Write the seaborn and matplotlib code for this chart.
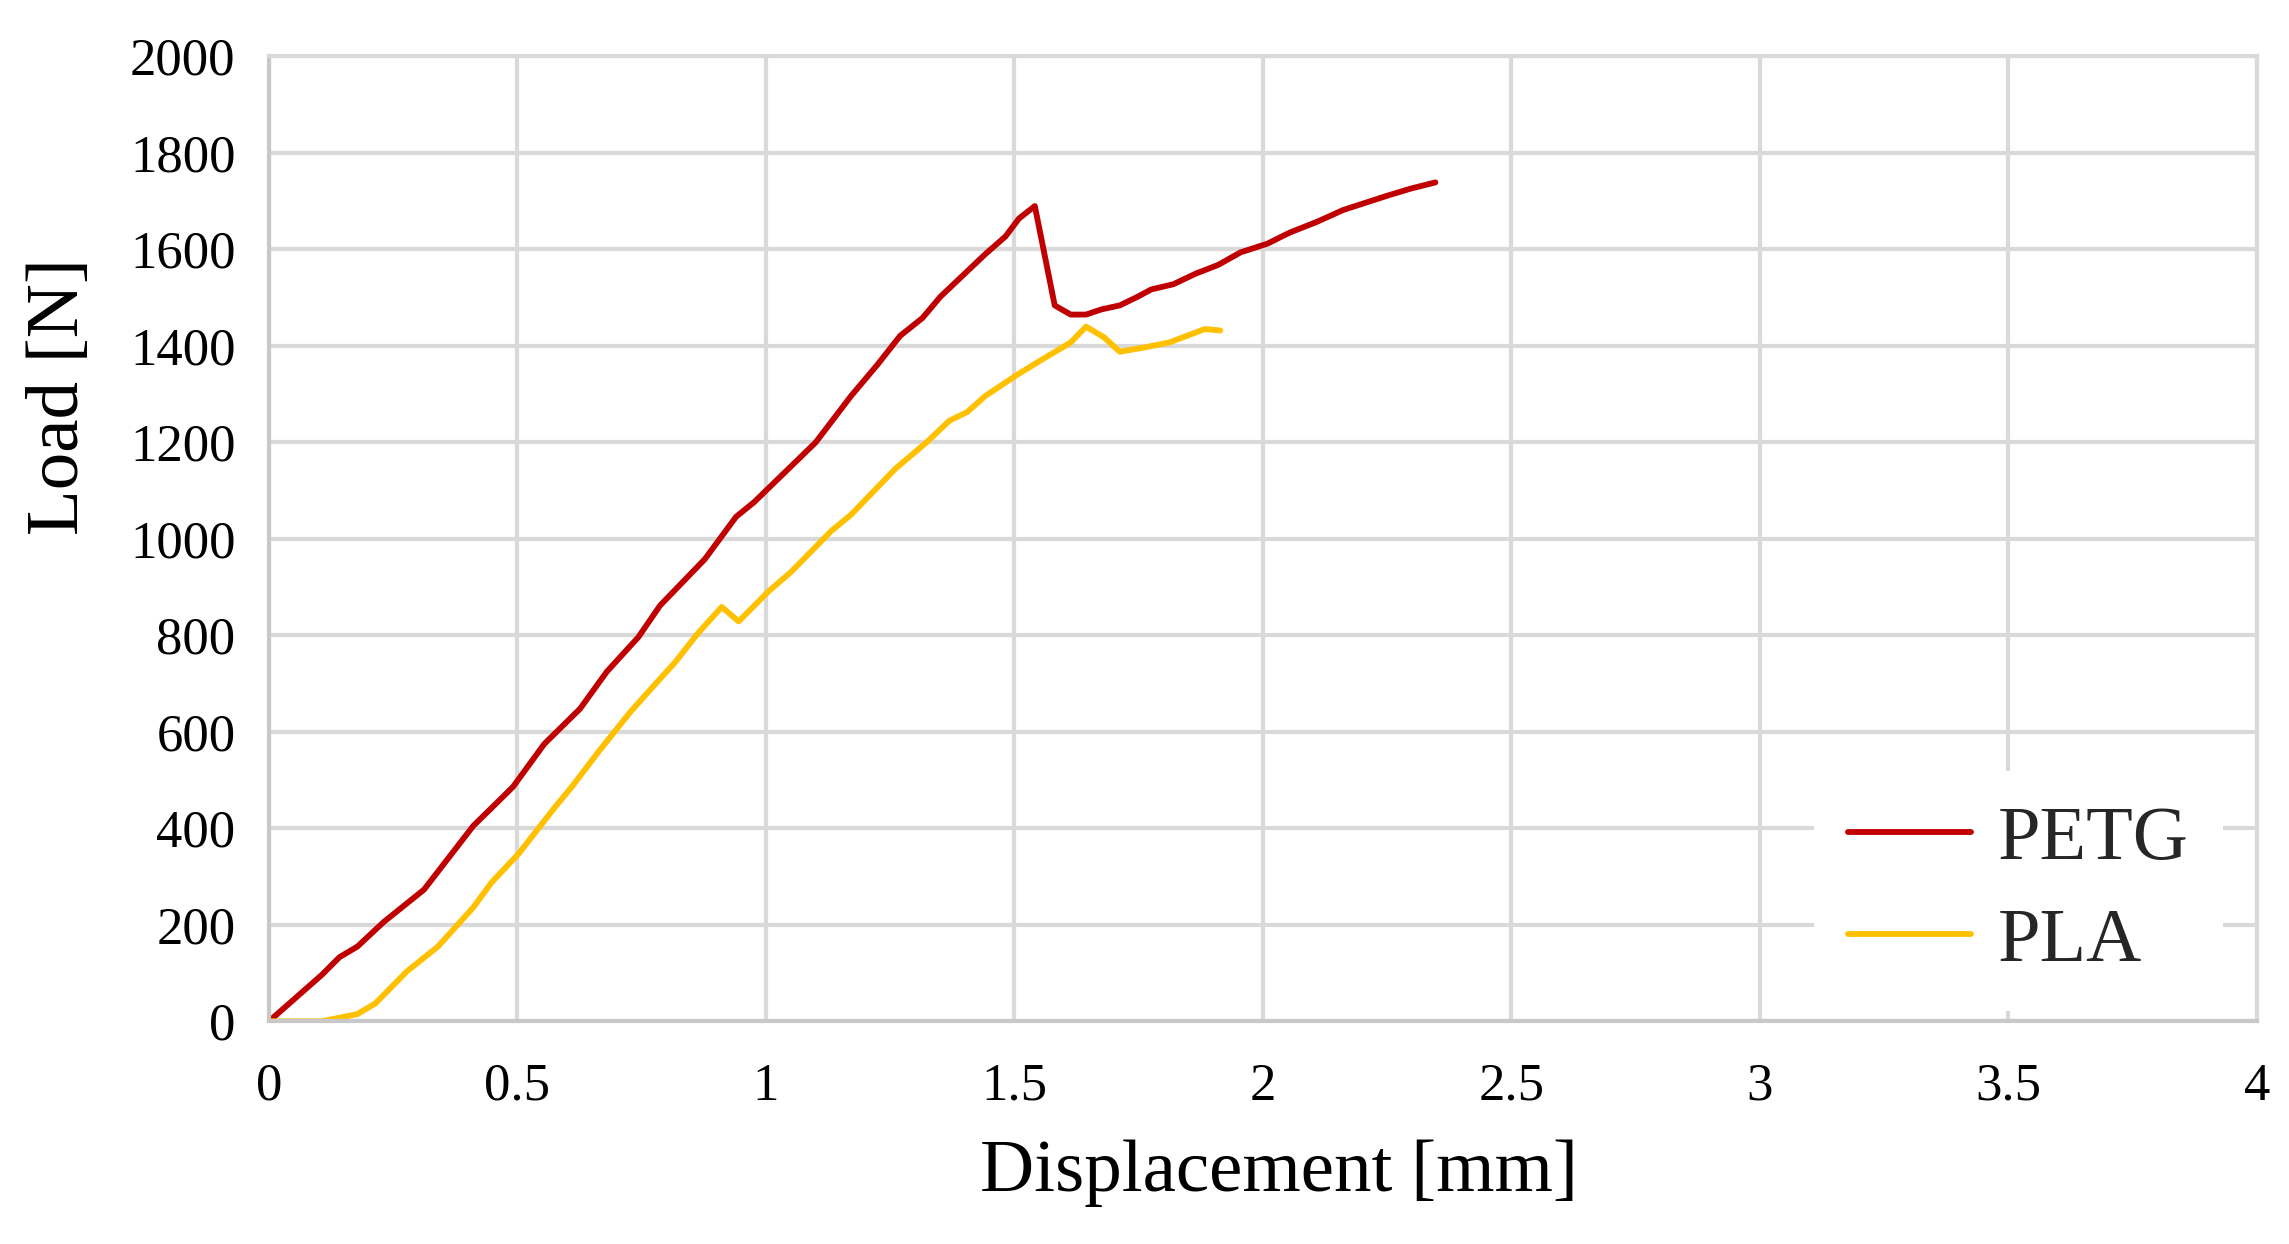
import numpy as np
import pandas as pd
import matplotlib
matplotlib.use("Agg")
import matplotlib.pyplot as plt
import seaborn as sns

# значення (переміщення, мм / навантаження, Н)
petg_disp = [0, 0.106, 0.142, 0.178, 0.231, 0.312, 0.411, 0.491, 0.554, 0.626,
             0.680, 0.743, 0.787, 0.877, 0.940, 0.976, 1.05, 1.10, 1.171, 1.225,
             1.270, 1.315, 1.351, 1.396, 1.441, 1.482, 1.509, 1.541, 1.581, 1.613,
             1.644, 1.676, 1.712, 1.748, 1.775, 1.820, 1.865, 1.910, 1.955, 2.009,
             2.054, 2.108, 2.162, 2.207, 2.252, 2.297, 2.347]
petg_load = [0, 96, 133, 155, 206, 273, 405, 486, 575, 648,
             725, 796, 862, 958, 1046, 1076, 1150, 1200, 1296, 1362,
             1421, 1458, 1502, 1546, 1590, 1627, 1664, 1690, 1484, 1465,
             1465, 1476, 1484, 1502, 1517, 1528, 1550, 1568, 1594, 1612,
             1635, 1657, 1682, 1697, 1712, 1726, 1739]

pla_disp = [0, 0.106, 0.178, 0.214, 0.277, 0.340, 0.411, 0.448, 0.502, 0.574,
            0.610, 0.664, 0.727, 0.772, 0.817, 0.862, 0.911, 0.945, 1.006, 1.051,
            1.132, 1.171, 1.216, 1.261, 1.324, 1.369, 1.405, 1.441, 1.505, 1.559,
            1.613, 1.644, 1.680, 1.712, 1.757, 1.811, 1.847, 1.883, 1.914]
pla_load = [0, 0, 15, 37, 103, 155, 236, 288, 347, 442,
            487, 560, 641, 693, 744, 803, 859, 829, 892, 932,
            1017, 1050, 1098, 1146, 1201, 1245, 1263, 1296, 1340, 1374,
            1407, 1440, 1418, 1388, 1396, 1407, 1421, 1435, 1432]

materials = ["PETG", "PLA"]
colors = {"PETG": "#c00000", "PLA": "#ffc000"}
x_ticks = [0, 0.5, 1, 1.5, 2, 2.5, 3, 3.5, 4]
x_tick_labels = ["0", "0.5", "1", "1.5", "2", "2.5", "3", "3.5", "4"]
y_ticks = list(range(0, 2001, 200))

sns.set_theme(style="whitegrid")
plt.rcParams["font.family"] = ["Liberation Serif", "DejaVu Serif"]

df = pd.concat([
    pd.DataFrame({"disp": petg_disp, "load": petg_load, "material": "PETG"}),
    pd.DataFrame({"disp": pla_disp, "load": pla_load, "material": "PLA"}),
], ignore_index=True)

fig = plt.figure(figsize=(22.89, 12.44), dpi=100)
ax = fig.add_axes([0.1175, 0.179, 0.8685, 0.7756])

sns.lineplot(data=df, x="disp", y="load", hue="material", hue_order=materials,
             palette=colors, sort=False, estimator=None, linewidth=4.2, ax=ax)

grid_c = "#d9d9d9"
ax.set_xlim(0, 4)
ax.set_ylim(0, 2000)
ax.set_xticks(x_ticks)
ax.set_xticklabels(x_tick_labels)
ax.set_yticks(y_ticks)
ax.grid(True, color=grid_c, linewidth=3.0)
for side in ["top", "right", "left", "bottom"]:
    ax.spines[side].set_color(grid_c)
    ax.spines[side].set_linewidth(3.0)
ax.spines["left"].set_color("#c8c8c8")
ax.spines["bottom"].set_color("#c8c8c8")
ax.tick_params(axis="both", length=0, labelsize=38, colors="black")
ax.tick_params(axis="x", pad=30)
ax.tick_params(axis="y", pad=24)

ax.set_xlabel("Displacement [mm]", fontsize=54, color="black")
ax.set_ylabel("Load [N]", fontsize=54, color="black")
ax.xaxis.set_label_coords(0.508, -0.122)
ax.yaxis.set_label_coords(-0.088, 0.648)

leg = ax.legend(title=None, loc="center", bbox_to_anchor=(0.88, 0.135),
                fontsize=55, frameon=True, facecolor="white", edgecolor="none",
                framealpha=1.0, fancybox=False, handlelength=1.6,
                handletextpad=0.35, labelspacing=0.42, borderpad=0.45)
for line in leg.get_lines():
    line.set_linewidth(4.2)

fig.savefig("out.png", dpi=100, facecolor="white")
